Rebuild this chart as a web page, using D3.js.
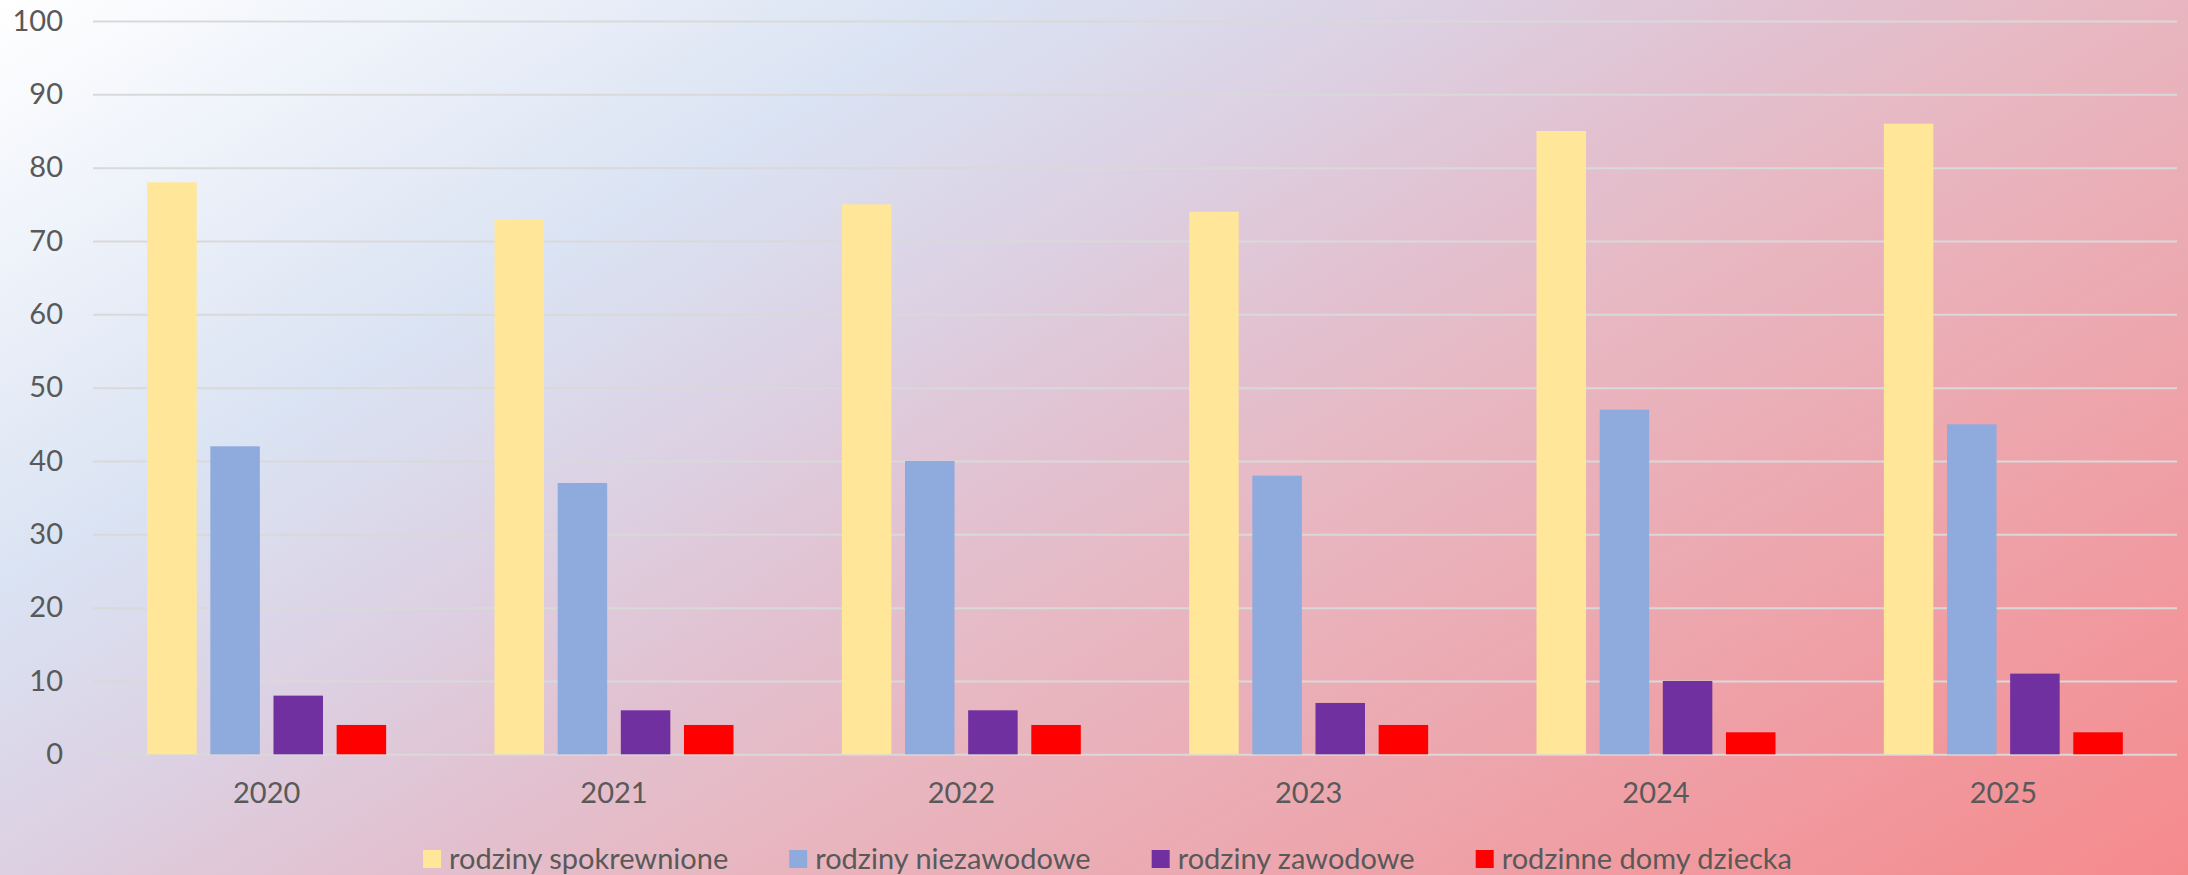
<!DOCTYPE html>
<html>
<head>
<meta charset="utf-8">
<script src="https://cdn.jsdelivr.net/npm/d3@7"></script>
<style>
  html, body { margin: 0; padding: 0; overflow: hidden; }
  svg { display: block; font-family: Lato, "Open Sans", sans-serif; }
</style>
</head>
<body>
<svg id="chart" width="2188" height="875"></svg>
<script>
const years = ["2020", "2021", "2022", "2023", "2024", "2025"];
const seriesNames = ["rodziny spokrewnione", "rodziny niezawodowe", "rodziny zawodowe", "rodzinne domy dziecka"];
const spokrewnione = [78, 73, 75, 74, 85, 86];
const niezawodowe = [42, 37, 40, 38, 47, 45];
const zawodowe = [8, 6, 6, 7, 10, 11];
const domyDziecka = [4, 4, 4, 4, 3, 3];
const yTicks = [0, 10, 20, 30, 40, 50, 60, 70, 80, 90, 100];
const colors = ["#ffe699", "#8faadc", "#7030a0", "#ff0000"];

const seriesValues = [spokrewnione, niezawodowe, zawodowe, domyDziecka];
const W = 2188, H = 875;
const svg = d3.select("#chart");

// background gradient
const defs = svg.append("defs");
const grad = defs.append("linearGradient").attr("id", "bg")
  .attr("gradientUnits", "userSpaceOnUse")
  .attr("x1", 0).attr("y1", 0).attr("x2", 965).attr("y2", 1608);
[[0, "#ffffff"], [0.27, "#dae3f3"], [0.4, "#dcd0e2"], [0.5, "#e2c1d0"], [0.6, "#e8b6c0"], [1, "#f58a8d"]]
  .forEach(([o, c]) => grad.append("stop").attr("offset", o).attr("stop-color", c));
svg.append("rect").attr("width", W).attr("height", H).attr("fill", "url(#bg)");

const plot = { left: 93, right: 2177, top: 21, bottom: 754.3 };
const y = d3.scaleLinear().domain([0, 100]).range([plot.bottom, plot.top]);
const x = d3.scaleBand().domain(years).range([plot.left, plot.right])
  .paddingInner(0.312).paddingOuter(0.156);
const xs = d3.scaleBand().domain(d3.range(seriesNames.length)).range([0, x.bandwidth()])
  .paddingInner(0.216).paddingOuter(0);

// gridlines
const yAxis = d3.axisLeft(y).tickValues(yTicks).tickSize(-(plot.right - plot.left)).tickPadding(30);
const gy = svg.append("g").attr("transform", `translate(${plot.left},0)`).call(yAxis);
gy.select(".domain").remove();
gy.selectAll(".tick line").attr("stroke", "#d9d9d9").attr("stroke-width", 2);
gy.selectAll(".tick text").attr("fill", "#595959").style("font-size", "29px")
  .style("font-family", "Lato, 'Open Sans', sans-serif");

// bars
const groups = svg.append("g").selectAll("g").data(years).join("g")
  .attr("transform", d => `translate(${x(d)},0)`);
groups.selectAll("rect")
  .data((d, i) => seriesValues.map((s, k) => ({ k, v: s[i] })))
  .join("rect")
  .attr("x", d => xs(d.k))
  .attr("width", xs.bandwidth())
  .attr("y", d => y(d.v))
  .attr("height", d => y(0) - y(d.v))
  .attr("fill", d => colors[d.k]);

// x axis
const xAxis = d3.axisBottom(x).tickSize(0).tickPadding(28);
const gx = svg.append("g").attr("transform", `translate(0,${plot.bottom})`).call(xAxis);
gx.select(".domain").remove();
gx.selectAll(".tick text").attr("fill", "#595959").style("font-size", "29px")
  .style("font-family", "Lato, 'Open Sans', sans-serif");

// legend
const legend = svg.append("g");
const sw = 18, swGap = 8, itemGap = 61;
let cx = 0;
seriesNames.forEach((name, k) => {
  const g = legend.append("g");
  g.append("rect").attr("x", 0).attr("y", -9).attr("width", sw).attr("height", sw).attr("fill", colors[k]);
  const t = g.append("text").attr("x", sw + swGap).attr("y", 0).attr("dy", "0.35em")
    .attr("fill", "#595959").style("font-size", "29px").text(name);
  const w = t.node().getComputedTextLength();
  g.attr("transform", `translate(${cx},0)`);
  cx += sw + swGap + w + itemGap;
});
const total = cx - itemGap;
legend.attr("transform", `translate(${1107.5 - total / 2},859)`);
</script>
</body>
</html>
